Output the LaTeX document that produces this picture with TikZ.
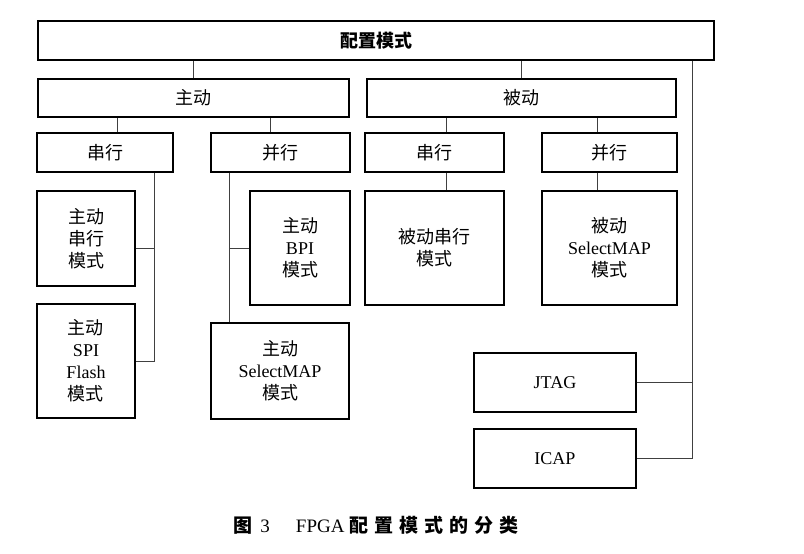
\documentclass[tikz,border=0pt]{standalone}
\usepackage{fontspec}
\setmainfont{Liberation Serif}
\newfontfamily\cjk{Noto Sans CJK SC}
\newcommand\spc[1]{#1\hspace{6pt}}
\tikzset{
  box/.style={draw, line width=1.4pt, align=center, inner sep=0pt,
    font=\cjk\fontsize{18}{22}\selectfont},
  link/.style={line width=0.7pt, black!75},
}

\begin{document}
\begin{tikzpicture}[x=1pt, y=-1pt]
      \useasboundingbox (0,0) rectangle (804,554);

      % top levels
      \node[box, minimum width=676pt, minimum height=39pt] (mode) at (376,40.5) {\bfseries 配置模式};
      \node[box, minimum width=311pt, minimum height=38pt] (zd) at (193.5,98) {主动};
      \node[box, minimum width=309pt, minimum height=38pt] (bd) at (521.5,98) {被动};

      \node[box, minimum width=136pt, minimum height=39pt] (zdcx) at (105,152.5) {串行};
      \node[box, minimum width=139pt, minimum height=39pt] (zdbx) at (280.5,152.5) {并行};
      \node[box, minimum width=139pt, minimum height=39pt] (bdcx) at (434.5,152.5) {串行};
      \node[box, minimum width=135pt, minimum height=39pt] (bdbx) at (609.5,152.5) {并行};

      % modes
      \node[box, minimum width=98pt, minimum height=95pt] (zdcxms) at (86,238.5) {主动\\串行\\模式};
      \node[box, minimum width=98pt, minimum height=114pt] (zdspi) at (86,361) {主动\\\textrm{SPI}\\\textrm{Flash}\\模式};
      \node[box, minimum width=100pt, minimum height=114pt] (zdbpi) at (300,248) {主动\\\textrm{BPI}\\模式};
      \node[box, minimum width=138pt, minimum height=96pt] (zdsmap) at (280,371) {主动\\\textrm{SelectMAP}\\模式};
      \node[box, minimum width=139pt, minimum height=114pt] (bdcxms) at (434.5,248) {被动串行\\模式};
      \node[box, minimum width=135pt, minimum height=114pt] (bdsmap) at (609.5,248) {被动\\\textrm{SelectMAP}\\模式};
      \node[box, minimum width=162pt, minimum height=59pt] (jtag) at (555,382.5) {\textrm{JTAG}};
      \node[box, minimum width=162pt, minimum height=59pt] (icap) at (555,458.5) {\textrm{ICAP}};

      \coordinate (cxbus) at (154,0);
      \coordinate (bxbus) at (229,0);
      \coordinate (rbus) at (692,0);

      % connectors
      \draw[link] (zd.north) -- (zd.north |- mode.south);
      \draw[link] (bd.north) -- (bd.north |- mode.south);
      \draw[link] ([xshift=12pt]zdcx.north) -- ([xshift=12pt]zdcx.north |- zd.south);
      \draw[link] ([xshift=-10pt]zdbx.north) -- ([xshift=-10pt]zdbx.north |- zd.south);
      \draw[link] ([xshift=12pt]bdcx.north) -- ([xshift=12pt]bdcx.north |- bd.south);
      \draw[link] ([xshift=-12pt]bdbx.north) -- ([xshift=-12pt]bdbx.north |- bd.south);
      \draw[link] ([xshift=12pt]bdcx.south) -- ([xshift=12pt]bdcx.south |- bdcxms.north);
      \draw[link] ([xshift=-12pt]bdbx.south) -- ([xshift=-12pt]bdbx.south |- bdsmap.north);

      \draw[link] (zdcx.south -| cxbus) |- (zdspi.east);
      \draw[link] ([yshift=-10pt]zdcxms.east) -- ([yshift=-10pt]zdcxms.east -| cxbus);
      \draw[link] (zdbx.south -| bxbus) -- (zdsmap.north -| bxbus);
      \draw[link] (zdbpi.west) -- (zdbpi.west -| bxbus);
      \draw[link] (mode.south -| rbus) |- (icap.east);
      \draw[link] (jtag.east) -- (jtag.east -| rbus);

      \node[font=\cjk\bfseries\fontsize{19}{22}\selectfont] (cap) at (376,525)
        {图\hspace{8pt}\textmd{\rmfamily 3}\hspace{26pt}\textmd{\rmfamily FPGA}\hspace{5pt}\spc{配}\spc{置}\spc{模}\spc{式}\spc{的}\spc{分}类};
\end{tikzpicture}
\end{document}
